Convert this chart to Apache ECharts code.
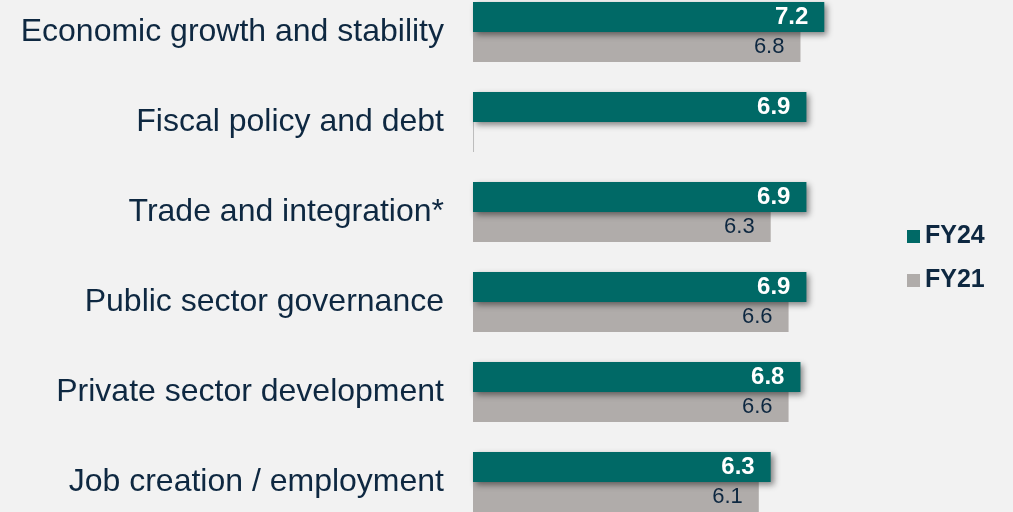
<!DOCTYPE html>
<html>
<head>
<meta charset="utf-8">
<script src="https://cdn.jsdelivr.net/npm/echarts@6/dist/echarts.min.js"></script>
<style>
  html, body { margin: 0; padding: 0; background: #f2f2f2; overflow: hidden; }
  #chart { width: 1013px; height: 540px; margin-top: -13px; }
</style>
</head>
<body>
<div id="chart"></div>
<script>
  // categories top to bottom
  let categories = [
    'Economic growth and stability',
    'Fiscal policy and debt',
    'Trade and integration*',
    'Public sector governance',
    'Private sector development',
    'Job creation / employment'
  ];
  let fy24 = [7.2, 6.9, 6.9, 6.9, 6.8, 6.3];
  let fy21 = [6.8, null, 6.3, 6.6, 6.6, 6.1];

  let xMin = 1.3;
  let xMax = 10;
  let navy = '#0e2841';
  let teal = '#006966';
  let grey = '#b0acaa';

  // a missing FY21 value shows as a thin line on the axis
  let fy21Items = fy21.map(function (v) {
    if (v === null) {
      return {
        value: xMin + 0.017,
        label: { show: false },
        itemStyle: { color: '#bdbdbd' }
      };
    }
    return v;
  });

  let myChart = echarts.init(document.getElementById('chart'));
  myChart.setOption({
    backgroundColor: '#f2f2f2',
    animation: false,
    textStyle: { fontFamily: 'Arial, "Liberation Sans", sans-serif' },
    legend: {
      orient: 'vertical',
      left: 902,
      top: 232,
      itemWidth: 13,
      itemHeight: 13,
      itemGap: 19,
      icon: 'rect',
      textStyle: { color: navy, fontSize: 25, fontWeight: 'bold' },
      data: ['FY24', 'FY21']
    },
    grid: { left: 473, right: 22, top: 0, bottom: 0, containLabel: false },
    xAxis: {
      type: 'value',
      min: xMin,
      max: xMax,
      show: false,
      splitLine: { show: false }
    },
    yAxis: {
      type: 'category',
      inverse: true,
      data: categories,
      axisLine: { show: false },
      axisTick: { show: false },
      axisLabel: { color: navy, fontSize: 32, margin: 29 }
    },
    series: [
      {
        name: 'FY24',
        type: 'bar',
        data: fy24,
        barWidth: 30,
        barGap: '0%',
        itemStyle: {
          color: teal,
          shadowColor: 'rgba(0,0,0,0.45)',
          shadowBlur: 6,
          shadowOffsetX: 3,
          shadowOffsetY: 3
        },
        label: {
          show: true,
          position: 'insideRight',
          distance: 16,
          color: '#ffffff',
          fontSize: 24,
          fontWeight: 'bold'
        },
        z: 3
      },
      {
        name: 'FY21',
        type: 'bar',
        data: fy21Items,
        barWidth: 30,
        itemStyle: { color: grey },
        label: {
          show: true,
          position: 'insideRight',
          distance: 16,
          color: navy,
          fontSize: 22
        },
        z: 2
      }
    ]
  });
</script>
</body>
</html>
